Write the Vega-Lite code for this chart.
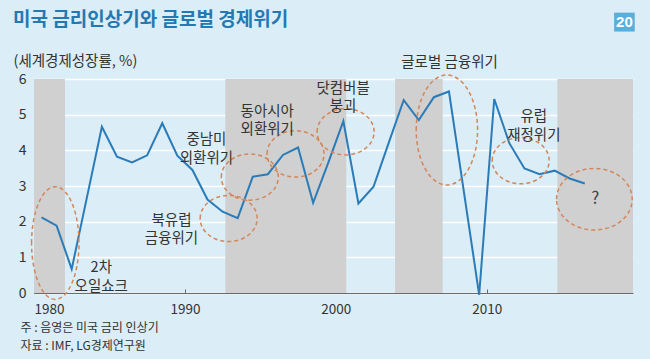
{
  "$schema": "https://vega.github.io/schema/vega-lite/v6.json",
  "autosize": {"type": "none"},
  "width": 599,
  "height": 214,
  "padding": {"left": 34, "top": 79, "right": 17, "bottom": 66},
  "background": "#dbedf6",
  "title": {
    "text": "미국 금리인상기와 글로벌 경제위기",
    "anchor": "start",
    "frame": "group",
    "dx": -21,
    "offset": -36,
    "baseline": "bottom",
    "fontSize": 19,
    "fontWeight": "bold",
    "color": "#2479b0",
    "font": "Noto Sans CJK KR"
  },
  "config": {
    "view": {"stroke": null},
    "font": "Noto Sans CJK KR",
    "text": {"font": "Noto Sans CJK KR"},
    "axisY": {"tickCount": 6, "grid": true, "gridColor": "#ffffff", "gridWidth": 1.5}
  },
  "layer": [
    {
      "data": {
        "values": [
          {"start": "1980-01-01", "end": "1982-01-20"},
          {"start": "1992-09-05", "end": "2000-09-10"},
          {"start": "2003-12-05", "end": "2007-01-30"},
          {"start": "2014-09-05", "end": "2019-09-10"}
        ],
        "format": {"parse": {"start": "date", "end": "date"}}
      },
      "mark": {"type": "rect", "color": "#d0d0d0"},
      "encoding": {
        "x": {
          "field": "start",
          "type": "temporal",
          "scale": {
            "type": "utc",
            "domain": [
              {"year": 1980, "month": 1, "date": 1, "utc": true},
              {"year": 2019, "month": 9, "date": 10, "utc": true}
            ]
          },
          "axis": {
            "values": [
              {"year": 1980, "utc": true},
              {"year": 1990, "utc": true},
              {"year": 2000, "utc": true},
              {"year": 2010, "utc": true}
            ],
            "format": "%Y",
            "grid": false,
            "domain": true,
            "domainColor": "#6b6b6b",
            "domainWidth": 1.2,
            "tickColor": "#6b6b6b",
            "tickSize": -4,
            "labelPadding": 13,
            "labelFontSize": 13.5,
            "labelColor": "#333333",
            "labelFont": "Noto Sans CJK KR",
            "title": ["주 : 음영은 미국 금리 인상기", "자료 : IMF, LG경제연구원"],
            "titleAnchor": "start",
            "titleAlign": "left",
            "titleBaseline": "top",
            "titleX": -14,
            "titleY": 29,
            "titleFontSize": 12,
            "titleFontWeight": "normal",
            "titleColor": "#333333",
            "titleLineHeight": 18.5,
            "titleFont": "Noto Sans CJK KR"
          }
        },
        "x2": {"field": "end"}
      }
    },
    {
      "data": {
        "values": [
          {"year": "1980-07-01", "growth": 2.12},
          {"year": "1981-07-01", "growth": 1.89},
          {"year": "1982-07-01", "growth": 0.67},
          {"year": "1983-07-01", "growth": 2.66},
          {"year": "1984-07-01", "growth": 4.66},
          {"year": "1985-07-01", "growth": 3.82},
          {"year": "1986-07-01", "growth": 3.66},
          {"year": "1987-07-01", "growth": 3.86},
          {"year": "1988-07-01", "growth": 4.76},
          {"year": "1989-07-01", "growth": 3.85},
          {"year": "1990-07-01", "growth": 3.45},
          {"year": "1991-07-01", "growth": 2.62},
          {"year": "1992-07-01", "growth": 2.28},
          {"year": "1993-07-01", "growth": 2.1},
          {"year": "1994-07-01", "growth": 3.26},
          {"year": "1995-07-01", "growth": 3.33},
          {"year": "1996-07-01", "growth": 3.87},
          {"year": "1997-07-01", "growth": 4.08},
          {"year": "1998-07-01", "growth": 2.53},
          {"year": "1999-07-01", "growth": 3.65},
          {"year": "2000-07-01", "growth": 4.82},
          {"year": "2001-07-01", "growth": 2.51},
          {"year": "2002-07-01", "growth": 2.98},
          {"year": "2003-07-01", "growth": 4.2},
          {"year": "2004-07-01", "growth": 5.41},
          {"year": "2005-07-01", "growth": 4.85},
          {"year": "2006-07-01", "growth": 5.49},
          {"year": "2007-07-01", "growth": 5.65},
          {"year": "2008-07-01", "growth": 2.8},
          {"year": "2009-07-01", "growth": -0.05},
          {"year": "2010-07-01", "growth": 5.44},
          {"year": "2011-07-01", "growth": 4.2},
          {"year": "2012-07-01", "growth": 3.49},
          {"year": "2013-07-01", "growth": 3.33},
          {"year": "2014-07-01", "growth": 3.43},
          {"year": "2015-07-01", "growth": 3.21},
          {"year": "2016-07-01", "growth": 3.07}
        ],
        "format": {"parse": {"year": "date"}}
      },
      "mark": {"type": "line", "color": "#2a7bb8", "strokeWidth": 2, "clip": false},
      "encoding": {
        "x": {"field": "year", "type": "temporal"},
        "y": {
          "field": "growth",
          "type": "quantitative",
          "scale": {"domain": [0, 6], "nice": false, "zero": false},
          "axis": {
            "tickCount": 6,
            "grid": true,
            "gridColor": "#ffffff",
            "gridWidth": 1.5,
            "domain": true,
            "domainColor": "#6b6b6b",
            "ticks": false,
            "labelPadding": 8,
            "labelFontSize": 14,
            "labelColor": "#333333",
            "labelFont": "Noto Sans CJK KR",
            "title": "(세계경제성장률, %)",
            "titleAngle": 0,
            "titleAlign": "left",
            "titleBaseline": "middle",
            "titleX": -21,
            "titleY": -18,
            "titleFontSize": 14.5,
            "titleFontWeight": "normal",
            "titleColor": "#333333",
            "titleFont": "Noto Sans CJK KR"
          }
        }
      }
    },
    {
      "data": {
        "values": [
          {"crisis": "2차 오일쇼크", "date": "1981-05-30", "level": 1.40},
          {"crisis": "북유럽 금융위기", "date": "1992-11-24", "level": 2.09},
          {"crisis": "중남미 외환위기", "date": "1994-04-20", "level": 3.25},
          {"crisis": "동아시아 외환위기", "date": "1997-05-01", "level": 3.90},
          {"crisis": "닷컴버블 붕괴", "date": "2000-08-25", "level": 4.52},
          {"crisis": "글로벌 금융위기", "date": "2007-05-12", "level": 4.57},
          {"crisis": "유럽 재정위기", "date": "2012-04-01", "level": 3.71},
          {"crisis": "?", "date": "2017-02-17", "level": 2.63}
        ],
        "format": {"parse": {"date": "date"}}
      },
      "mark": {
        "type": "point",
        "filled": false,
        "size": 3600,
        "stroke": "#d4865a",
        "strokeWidth": 1.5,
        "strokeDash": [4, 3],
        "opacity": 1,
        "clip": false
      },
      "encoding": {
        "x": {"field": "date", "type": "temporal"},
        "y": {"field": "level", "type": "quantitative"},
        "shape": {
          "field": "crisis",
          "type": "nominal",
          "legend": null,
          "scale": {
            "domain": ["2차 오일쇼크", "북유럽 금융위기", "중남미 외환위기", "동아시아 외환위기", "닷컴버블 붕괴", "글로벌 금융위기", "유럽 재정위기", "?"],
            "range": [
              "M-0.79,0C-0.79,-1.0366,-0.4363,-1.877,0,-1.877C0.4363,-1.877,0.79,-1.0366,0.79,0C0.79,1.0366,0.4363,1.877,0,1.877C-0.4363,1.877,-0.79,1.0366,-0.79,0Z",
              "M-0.95,0C-0.95,-0.4253,-0.5247,-0.77,0,-0.77C0.5247,-0.77,0.95,-0.4253,0.95,0C0.95,0.4253,0.5247,0.77,0,0.77C-0.5247,0.77,-0.95,0.4253,-0.95,0Z",
              "M-0.95,0C-0.95,-0.4253,-0.5247,-0.77,0,-0.77C0.5247,-0.77,0.95,-0.4253,0.95,0C0.95,0.4253,0.5247,0.77,0,0.77C-0.5247,0.77,-0.95,0.4253,-0.95,0Z",
              "M-0.95,0C-0.95,-0.4253,-0.5247,-0.77,0,-0.77C0.5247,-0.77,0.95,-0.4253,0.95,0C0.95,0.4253,0.5247,0.77,0,0.77C-0.5247,0.77,-0.95,0.4253,-0.95,0Z",
              "M-0.95,0C-0.95,-0.4253,-0.5247,-0.77,0,-0.77C0.5247,-0.77,0.95,-0.4253,0.95,0C0.95,0.4253,0.5247,0.77,0,0.77C-0.5247,0.77,-0.95,0.4253,-0.95,0Z",
              "M-1.023,0C-1.023,-1.0124,-0.565,-1.833,0,-1.833C0.565,-1.833,1.023,-1.0124,1.023,0C1.023,1.0124,0.565,1.833,0,1.833C-0.565,1.833,-1.023,1.0124,-1.023,0Z",
              "M-0.95,0C-0.95,-0.4253,-0.5247,-0.77,0,-0.77C0.5247,-0.77,0.95,-0.4253,0.95,0C0.95,0.4253,0.5247,0.77,0,0.77C-0.5247,0.77,-0.95,0.4253,-0.95,0Z",
              "M-1.26,0C-1.26,-0.5672,-0.6959,-1.027,0,-1.027C0.6959,-1.027,1.26,-0.5672,1.26,0C1.26,0.5672,0.6959,1.027,0,1.027C-0.6959,1.027,-1.26,0.5672,-1.26,0Z"
            ]
          }
        }
      }
    },
    {
      "data": {
        "values": [
          {"label": "2차\n오일쇼크", "date": "1984-06-16", "level": 0.70},
          {"label": "북유럽\n금융위기", "date": "1989-02-10", "level": 2.02},
          {"label": "중남미\n외환위기", "date": "1991-06-05", "level": 4.28},
          {"label": "동아시아\n외환위기", "date": "1995-06-17", "level": 5.08},
          {"label": "닷컴버블\n붕괴", "date": "2000-06-24", "level": 5.73},
          {"label": "글로벌 금융위기", "date": "2007-07-16", "level": 6.45},
          {"label": "유럽\n재정위기", "date": "2013-02-14", "level": 4.93}
        ],
        "format": {"parse": {"date": "date"}}
      },
      "mark": {
        "type": "text",
        "lineBreak": "\n",
        "lineHeight": 18.5,
        "fontSize": 14.5,
        "color": "#333333",
        "align": "center",
        "baseline": "middle",
        "clip": false
      },
      "encoding": {
        "x": {"field": "date", "type": "temporal"},
        "y": {"field": "level", "type": "quantitative"},
        "text": {"field": "label"}
      }
    },
    {
      "data": {
        "values": [{"label": "?", "date": "2017-03-10", "level": 2.64}],
        "format": {"parse": {"date": "date"}}
      },
      "mark": {"type": "text", "fontSize": 17, "color": "#444444", "align": "center", "baseline": "middle"},
      "encoding": {
        "x": {"field": "date", "type": "temporal"},
        "y": {"field": "level", "type": "quantitative"},
        "text": {"field": "label"}
      }
    },
    {
      "data": {
        "values": [{"page": "20", "from": "2018-06-10", "to": "2019-10-22", "low": 7.33, "high": 7.86, "mid": "2019-02-15", "center": 7.595}],
        "format": {"parse": {"from": "date", "to": "date", "mid": "date"}}
      },
      "layer": [
        {
          "mark": {"type": "rect", "color": "#5aaedc", "clip": false},
          "encoding": {
            "x": {"field": "from", "type": "temporal"},
            "x2": {"field": "to"},
            "y": {"field": "low", "type": "quantitative"},
            "y2": {"field": "high"}
          }
        },
        {
          "mark": {"type": "text", "color": "#ffffff", "fontSize": 15, "fontWeight": "bold", "align": "center", "baseline": "middle", "font": "Liberation Sans"},
          "encoding": {
            "x": {"field": "mid", "type": "temporal"},
            "y": {"field": "center", "type": "quantitative"},
            "text": {"field": "page"}
          }
        }
      ]
    }
  ]
}
